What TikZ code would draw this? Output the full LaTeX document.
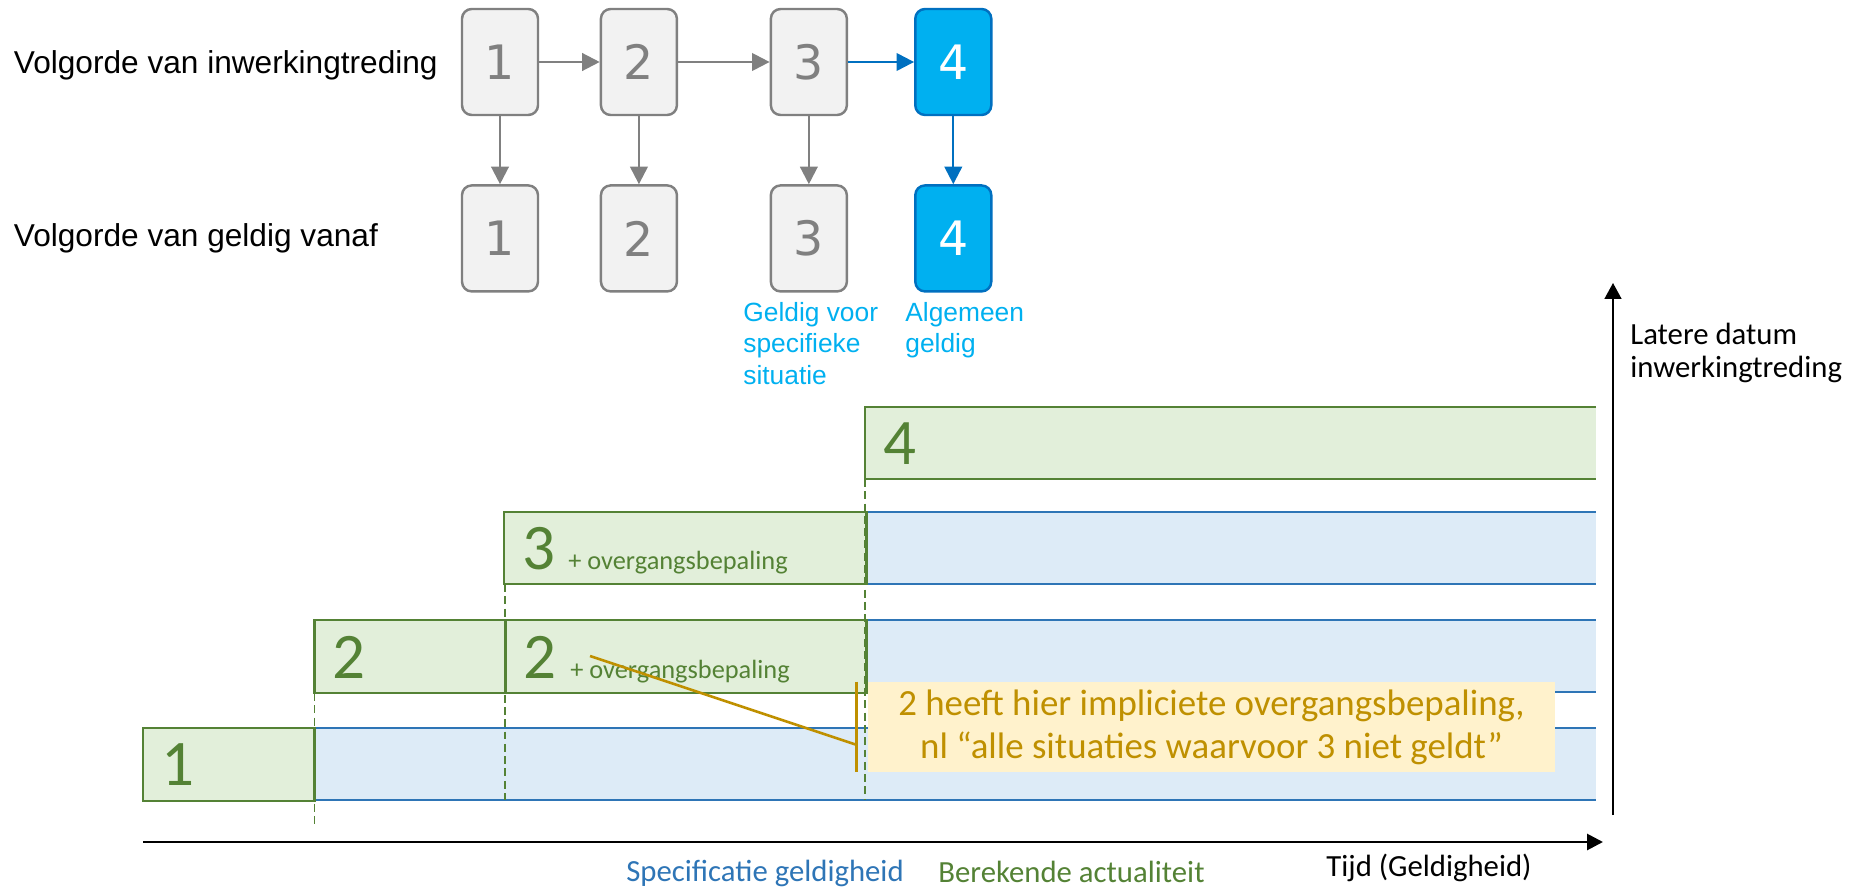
\documentclass[tikz,border=0pt]{standalone}
\usepackage{fontspec}
\setmainfont{Liberation Sans}
\newfontfamily\calibri{Carlito}
\newfontfamily\verdana{DejaVu Sans}
\usetikzlibrary{positioning,arrows.meta}
\definecolor{vgray}{HTML}{808080}
\definecolor{vfill}{HTML}{F2F2F2}
\definecolor{cyanfill}{HTML}{00B0F0}
\definecolor{darkblue}{HTML}{0070C0}
\definecolor{okgreen}{HTML}{548235}
\definecolor{okfill}{HTML}{E2EFDA}
\definecolor{bandline}{HTML}{2E75B6}
\definecolor{bandfill}{HTML}{DDEBF7}
\definecolor{gold}{HTML}{BF9000}
\definecolor{notefill}{HTML}{FFF2CC}

\begin{document}
\begin{tikzpicture}[x=0.02cm,y=-0.02cm,
   version/.style={draw=vgray,fill=vfill,text=vgray,rounded corners=5.5pt,line width=1.4pt,
     minimum width=1.52cm,minimum height=2.12cm,inner sep=0pt,font=\verdana\fontsize{27}{30}\selectfont},
   general/.style={draw=darkblue,fill=cyanfill,text=white},
   flow/.style={line width=1.3pt,color=vgray,-{Triangle[length=10pt,width=10pt]}},
   rowlabel/.style={anchor=west,inner sep=0pt,font=\fontsize{18}{21}\selectfont},
   bluelabel/.style={anchor=north west,inner sep=0pt,align=left,text=cyanfill,font=\fontsize{15}{17.9}\selectfont},
   band/.style={fill=bandfill},
   bandedge/.style={draw=bandline,line width=1.4pt},
   okbox/.style={fill=okfill,draw=okgreen,line width=1.6pt},
   bignum/.style={anchor=base west,inner sep=0pt,text=okgreen,font=\calibri\fontsize{37}{40}\selectfont},
   smallnote/.style={anchor=base west,inner sep=0pt,text=okgreen,font=\calibri\fontsize{15}{18}\selectfont},
   axislabel/.style={inner sep=0pt,font=\calibri\fontsize{17.5}{19}\selectfont},
   note/.style={fill=notefill,text=gold,align=center,inner sep=0pt,minimum width=13.74cm,
     minimum height=1.8cm,font=\calibri\fontsize{21}{24.5}\selectfont},
   pointer/.style={draw=gold,line width=1.5pt}]
   \useasboundingbox (0,0) rectangle (1854,888);

   % volgorde
   \node[rowlabel] (lin) at (13.6,65) {Volgorde van inwerkingtreding};
   \node[rowlabel] (lgv) at (13.6,238) {Volgorde van geldig vanaf};
   \node[version] (i1) at (500,62) {1};
   \node[version] (i2) [right=1.21cm of i1] {2};
   \node[version] (i3) [right=1.83cm of i2] {3};
   \node[version,general] (i4) [right=1.32cm of i3] {4};
   \node[version] (g1) [below=1.36cm of i1] {1};
   \node[version] (g2) [below=1.36cm of i2] {2};
   \node[version] (g3) [below=1.36cm of i3] {3};
   \node[version,general] (g4) [below=1.36cm of i4] {4};
   \path[flow]
    (i1) edge (i2)
    (i2) edge (i3)
    (i1) edge (g1)
    (i2) edge (g2)
    (i3) edge (g3);
   \path[flow,color=darkblue]
    (i3) edge (i4)
    (i4) edge (g4);
   \node[bluelabel] (l3) at (743,302) {Geldig voor\\specifieke\\situatie};
   \node[bluelabel] (l4) at (905,302) {Algemeen\\geldig};

   % banden
   \foreach \xl/\yt in {143/728, 314.5/620, 504/512} {
     \fill[band] (\xl,\yt) rectangle (1596,\yt+72);
     \draw[bandedge] (\xl,\yt) -- (1596,\yt) (\xl,\yt+72) -- (1596,\yt+72);
   }
   \draw[okbox] (143,728) rectangle (314.5,801);
   \draw[okbox] (314.5,620) rectangle (505.5,693);
   \draw[okbox] (505.5,620) rectangle (866.5,693);
   \draw[okbox] (504,512) rectangle (866.5,584);
   \fill[okfill] (865,407) rectangle (1596,479);
   \draw[okgreen,line width=1.6pt] (1596,407) -- (865,407) -- (865,479) -- (1596,479);
   \foreach \x/\ya/\yb in {314.5/693/825, 505/584/800, 865/479/800}
     \draw[okgreen,line width=0.6pt,dash pattern=on 4.5pt off 2.5pt] (\x,\ya) -- (\x,\yb);

   \node[bignum] (n1) at (161,785) {1};
   \node[bignum] (n2a) at (332.5,678) {2};
   \node[bignum] (n2b) at (523.5,678) {2};
   \node[smallnote] (o2) at (570,678) {+ overgangsbepaling};
   \node[bignum] (n3) at (522,570) {3};
   \node[smallnote] (o3) at (568,570) {+ overgangsbepaling};
   \node[bignum] (n4) at (883,465) {4};

   % toelichting
   \node[note] (note) at (1211.5,727) {2 heeft hier impliciete overgangsbepaling,\\nl “alle situaties waarvoor 3 niet geldt”};
   \coordinate (ptr) at (590,656);
   \coordinate (brk) at (857,745);
   \draw[pointer] (ptr) -- (brk);
   \draw[pointer] ([xshift=-0.22cm]note.north west) -- ([xshift=-0.22cm]note.south west);

   % assen
   \coordinate (t0) at (143,842);
   \coordinate (t1) at (1603,842);
   \coordinate (d0) at (1613,815);
   \coordinate (d1) at (1613,283);
   \draw[line width=1.6pt,-{Triangle[length=9pt,width=9pt]}] (t0) -- (t1);
   \draw[line width=1.1pt,-{Triangle[length=9pt,width=9.5pt]}] (d0) -- (d1);
   \node[axislabel,anchor=west,align=left] (later) at (1630,353) {Latere datum\\inwerkingtreding};
   \node[axislabel] (tijd) at (1429,868) {Tijd (Geldigheid)};
   \node[axislabel,text=bandline] (spec) at (765,873) {Specificatie geldigheid};
   \node[axislabel,text=okgreen] (calc) at (1071.5,872) {Berekende actualiteit};
\end{tikzpicture}
\end{document}
